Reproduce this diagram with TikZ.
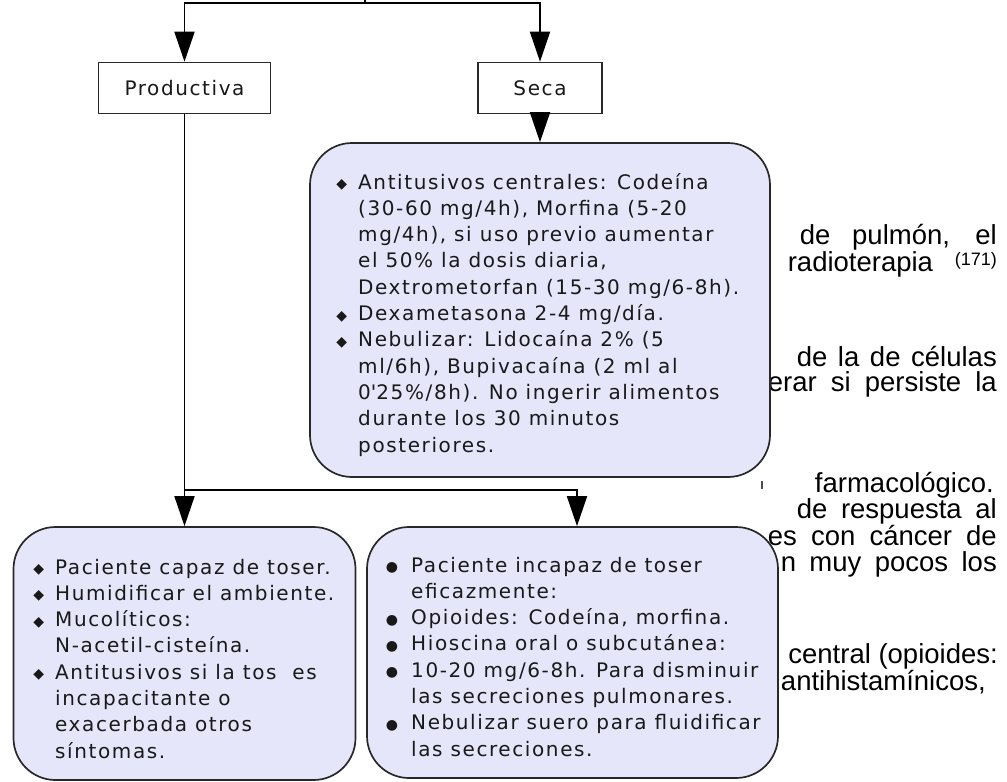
\documentclass[tikz,border=0pt]{standalone}
\usepackage{fontspec}
\setmainfont{DejaVu Sans}[LetterSpace=8]
\newfontfamily\arialf{Liberation Sans}
\newfontfamily\symf{DejaVu Sans}
\usetikzlibrary{arrows.meta}
\definecolor{boxfill}{RGB}{230,230,250}
\definecolor{edge}{RGB}{40,40,40}
\definecolor{ink}{RGB}{25,25,25}
\newcommand{\dbul}{\llap{{\symf\fontsize{14}{14}\selectfont\raisebox{0.5pt}{◆}}\hspace{11pt}}}
\newcommand{\cbul}{\llap{{\symf\fontsize{14}{14}\selectfont\raisebox{0.5pt}{●}}\hspace{13pt}}}
\begin{document}
\begin{tikzpicture}[x=1pt,y=-1pt,
  lbl/.style={draw=edge,line width=1.6pt,fill=white,minimum height=51pt,inner sep=0pt,text=ink,font=\fontsize{20}{24}\selectfont},
  rbox/.style={draw=edge,line width=1.7pt,fill=boxfill,rounded corners=42pt,inner sep=0pt},
  arr/.style={draw=black,line width=1.8pt,-{Triangle[width=20pt,length=30pt]}},
  plain/.style={draw=black,line width=1.8pt},
  txt/.style={inner sep=0pt,anchor=base west,text=ink,font=\fontsize{20}{26.3}\selectfont},
  bg/.style={inner sep=0pt,anchor=base east,text=black,font=\arialf\fontsize{27.5}{27.5}\selectfont}]
\useasboundingbox (0,0) rectangle (1007,782);
\fill[white] (0,0) rectangle (1007,782);
% background page text (partly covered by the boxes)
\node[bg] (t1) at (997,244) {\makebox[197pt][s]{de pulmón, el}};
\node[bg] (t2) at (997,271) {\makebox[209pt][s]{radioterapia \raisebox{6pt}{\fontsize{18}{18}\selectfont(171)}}};
\node[bg] (t3) at (997,366) {\makebox[200pt][s]{de la de células}};
\node[bg] (t4) at (997,391) {\makebox[229pt][s]{erar si persiste la}};
\node[bg] (t5) at (994,492) {farmacológico.};
\node[bg] (t6) at (997,518) {\makebox[200pt][s]{de respuesta al}};
\node[bg] (t7) at (997,545) {\makebox[229pt][s]{es con cáncer de}};
\node[bg] (t8) at (997,571) {\makebox[216pt][s]{n muy pocos los}};
\node[bg] (t9) at (998,663) {central (opioides:};
\node[bg] (t10) at (986,690) {antihistamínicos,};
\draw[black!70,line width=1.2pt] (762,481) -- (762,489);
% boxes
\node[lbl,minimum width=172pt] (prod) at (184.5,88) {Productiva};
\node[lbl,minimum width=124pt] (seca) at (540,88) {Seca};
\node[rbox,minimum width=460pt,minimum height=334pt] (mid) at (540,310) {};
\node[rbox,minimum width=342pt,minimum height=253pt] (lb) at (184.5,653.5) {};
\node[rbox,minimum width=411pt,minimum height=251pt] (rb) at (572.5,652.5) {};
% connectors
\coordinate (root) at (365,0);
\coordinate (split) at (365,3);
\coordinate (branch) at (184.5,490);
\draw[plain] (root) -- (split);
\draw[arr] (split) -| (prod.north);
\draw[arr] (split) -| (seca.north);
\draw[arr] (seca.south) -- (mid.north);
\draw[arr] (prod.south) -- (lb.north);
\draw[arr] (branch) -| ([xshift=4.5pt]rb.north);
% box texts
\node[txt] (midtext) at (358,189) {\begin{tabular}[t]{@{}l@{}}
\dbul Antitusivos centrales: Codeína\\
(30-60 mg/4h), Morfina (5-20\\
mg/4h), si uso previo aumentar\\
el 50\% la dosis diaria,\\
Dextrometorfan (15-30 mg/6-8h).\\
\dbul Dexametasona 2-4 mg/día.\\
\dbul Nebulizar: Lidocaína 2\% (5\\
ml/6h), Bupivacaína (2 ml al\\
0\textquotesingle25\%/8h). No ingerir alimentos\\
durante los 30 minutos\\
posteriores.\end{tabular}};
\node[txt] (lbtext) at (55,574) {\begin{tabular}[t]{@{}l@{}}
\dbul Paciente capaz de toser.\\
\dbul Humidificar el ambiente.\\
\dbul Mucolíticos:\\
N-acetil-cisteína.\\
\dbul Antitusivos si la tos\ \ es\\
incapacitante o\\
exacerbada otros\\
síntomas.\end{tabular}};
\node[txt] (rbtext) at (411,572) {\begin{tabular}[t]{@{}l@{}}
\cbul Paciente incapaz de toser\\
eficazmente:\\
\cbul Opioides: Codeína, morfina.\\
\cbul Hioscina oral o subcutánea:\\
\cbul 10-20 mg/6-8h. Para disminuir\\
las secreciones pulmonares.\\
\cbul Nebulizar suero para fluidificar\\
las secreciones.\end{tabular}};
\end{tikzpicture}
\end{document}
